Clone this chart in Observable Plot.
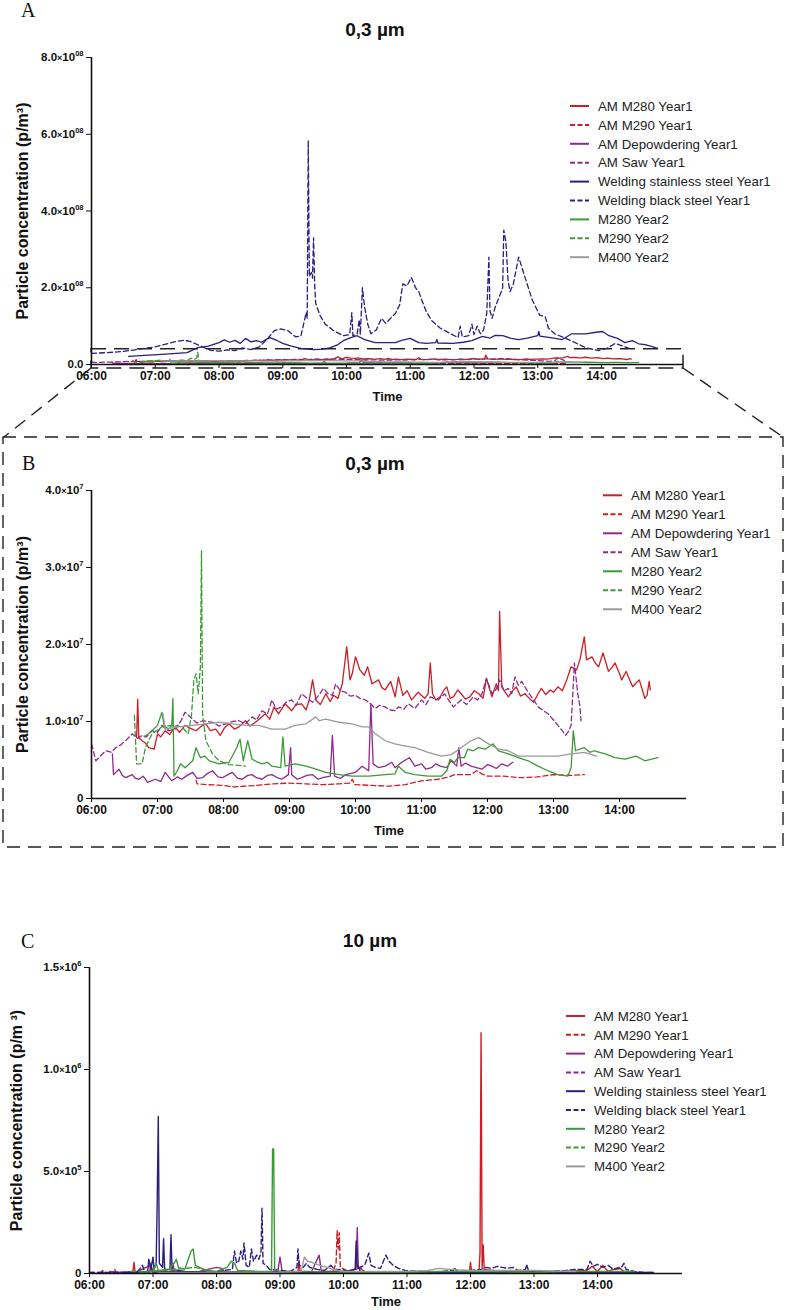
<!DOCTYPE html>
<html><head><meta charset="utf-8">
<script src="https://cdn.jsdelivr.net/npm/d3@7"></script>
<script src="https://cdn.jsdelivr.net/npm/@observablehq/plot@0.6"></script>
<style>
body{margin:0;background:#fff;}
#page{position:relative;width:787px;height:1310px;overflow:hidden;background:#fff}
.panel{position:absolute;left:0}
.panel svg{font-family:"Liberation Sans",Arial,sans-serif;font-weight:bold;color:#111}
g[aria-label="y-axis label"] text{font-size:16px}
g[aria-label="x-axis label"] text{font-size:13px}
#overlay{position:absolute;left:0;top:0;pointer-events:none}
</style></head>
<body><div id="page"></div>
<script>
// ---------- axis ticks & labels ----------
const xTicks = [6, 7, 8, 9, 10, 11, 12, 13, 14];
const xTickLabels = ["06:00","07:00","08:00","09:00","10:00","11:00","12:00","13:00","14:00"];
const yTicksA = [0, 20, 40, 60, 80];            // ×10^7
const yTickLabelsA = [["0.0",""],["2.0","08"],["4.0","08"],["6.0","08"],["8.0","08"]];
const yTicksB = [0, 1, 2, 3, 4];                // ×10^7
const yTickLabelsB = [["0",""],["1.0","7"],["2.0","7"],["3.0","7"],["4.0","7"]];
const yTicksC = [0, 5, 10, 15];                 // ×10^5
const yTickLabelsC = [["0",""],["5.0","5"],["1.0","6"],["1.5","6"]];

// ---------- series ----------
const seriesNames = ["AM M280 Year1","AM M290 Year1","AM Depowdering Year1","AM Saw Year1",
  "Welding stainless steel Year1","Welding black steel Year1","M280 Year2","M290 Year2","M400 Year2"];
const seriesColors = ["#cc1e24","#cc1e24","#8f2a8c","#8f2a8c","#2a1e80","#2a1e80","#3c9a36","#3c9a36","#9a9a9a"];
const seriesDashed = [false,true,false,true,false,true,false,true,false];

// 0.3 µm, units of 10^7 p/m3
const m280Y1_03 = [["06:41",0.79],["06:42",1.29],["06:43",0.79],["06:46",0.75],["06:49",0.72],["06:52",0.66],["06:57",0.64],["07:00",0.84],["07:03",0.80],["07:07",0.88],["07:11",0.83],["07:16",0.93],["07:20",0.86],["07:25",0.95],["07:30",0.91],["07:35",0.88],["07:40",0.94],["07:44",0.97],["07:48",0.88],["07:53",0.90],["07:57",0.82],["08:01",0.92],["08:05",0.97],["08:10",0.90],["08:14",0.93],["08:20",1.01],["08:24",0.94],["08:29",0.99],["08:34",1.05],["08:38",1.10],["08:42",1.03],["08:46",1.19],["08:50",1.10],["08:56",1.23],["09:02",1.14],["09:06",1.22],["09:11",1.23],["09:15",1.15],["09:18",1.28],["09:21",1.54],["09:24",1.28],["09:28",1.22],["09:33",1.36],["09:37",1.26],["09:40",1.34],["09:44",1.30],["09:48",1.49],["09:52",1.97],["09:55",1.54],["09:57",1.62],["10:00",1.84],["10:04",1.67],["10:08",1.60],["10:11",1.71],["10:15",1.49],["10:21",1.54],["10:24",1.44],["10:27",1.41],["10:32",1.52],["10:36",1.32],["10:39",1.58],["10:43",1.34],["10:47",1.40],["10:51",1.28],["10:57",1.38],["11:03",1.30],["11:06",1.36],["11:08",1.76],["11:10",1.36],["11:13",1.28],["11:17",1.32],["11:20",1.40],["11:23",1.45],["11:26",1.30],["11:29",1.32],["11:33",1.41],["11:36",1.36],["11:40",1.29],["11:44",1.32],["11:48",1.40],["11:52",1.36],["11:56",1.30],["11:59",1.56],["12:04",1.32],["12:08",1.49],["12:10",1.40],["12:11",2.43],["12:13",1.45],["12:16",1.38],["12:19",1.32],["12:23",1.40],["12:26",1.45],["12:30",1.33],["12:34",1.36],["12:38",1.30],["12:42",1.25],["12:46",1.36],["12:49",1.43],["12:53",1.35],["12:57",1.41],["13:00",1.38],["13:04",1.45],["13:08",1.40],["13:12",1.54],["13:16",1.71],["13:21",1.67],["13:24",1.80],["13:28",2.10],["13:30",1.80],["13:35",1.84],["13:38",1.76],["13:41",1.71],["13:45",1.89],["13:50",1.65],["13:53",1.70],["13:56",1.76],["14:00",1.62],["14:02",1.54],["14:06",1.65],["14:09",1.55],["14:12",1.45],["14:15",1.50],["14:18",1.54],["14:21",1.40],["14:23",1.30],["14:25",1.34],["14:27",1.52],["14:28",1.41]];
const m290Y1_03 = [["07:35",0.24],["07:36",0.19],["07:45",0.18],["08:00",0.17],["08:10",0.15],["08:20",0.16],["08:30",0.17],["08:45",0.19],["09:00",0.20],["09:15",0.19],["09:30",0.18],["09:45",0.19],["09:55",0.20],["09:57",0.25],["09:59",0.18],["10:15",0.17],["10:30",0.16],["10:45",0.18],["11:00",0.23],["11:15",0.25],["11:25",0.28],["11:30",0.31],["11:45",0.31],["11:50",0.36],["11:55",0.32],["12:00",0.29],["12:15",0.29],["12:30",0.27],["12:45",0.28],["13:00",0.31],["13:15",0.30],["13:28",0.31]];
const depowY1_03 = [["06:19",0.58],["06:20",0.31],["06:25",0.38],["06:28",0.30],["06:31",0.27],["06:37",0.31],["06:40",0.26],["06:43",0.25],["06:47",0.29],["06:51",0.21],["06:58",0.25],["07:03",0.22],["07:07",0.34],["07:13",0.23],["07:18",0.28],["07:22",0.25],["07:27",0.30],["07:32",0.34],["07:36",0.26],["07:41",0.27],["07:45",0.32],["07:50",0.36],["07:55",0.28],["07:59",0.27],["08:04",0.31],["08:08",0.34],["08:13",0.26],["08:17",0.25],["08:22",0.30],["08:26",0.31],["08:30",0.27],["08:35",0.25],["08:40",0.30],["08:44",0.31],["08:49",0.27],["08:53",0.25],["08:59",0.31],["09:01",0.66],["09:02",0.31],["09:07",0.25],["09:11",0.27],["09:16",0.30],["09:21",0.31],["09:26",0.25],["09:30",0.27],["09:37",0.29],["09:39",0.82],["09:41",0.29],["09:46",0.26],["09:51",0.31],["10:00",0.34],["10:06",0.42],["10:12",0.36],["10:14",1.23],["10:16",0.45],["10:21",0.40],["10:27",0.42],["10:33",0.47],["10:36",0.40],["10:42",0.47],["10:49",0.53],["10:54",0.42],["11:00",0.45],["11:04",0.38],["11:09",0.40],["11:13",0.45],["11:17",0.42],["11:23",0.40],["11:27",0.49],["11:32",0.42],["11:34",0.66],["11:36",0.42],["11:40",0.46],["11:45",0.42],["11:50",0.40],["11:55",0.38],["12:00",0.44],["12:04",0.42],["12:08",0.39],["12:13",0.45],["12:18",0.42],["12:23",0.47]];
const sawY1_03 = [["06:00",0.71],["06:04",0.49],["06:08",0.55],["06:13",0.62],["06:18",0.60],["06:22",0.66],["06:27",0.70],["06:31",0.75],["06:37",0.84],["06:42",0.78],["06:46",0.82],["06:50",0.80],["06:55",0.88],["07:00",0.86],["07:04",0.95],["07:10",0.88],["07:16",0.90],["07:21",1.00],["07:25",1.12],["07:32",1.03],["07:36",0.98],["07:41",1.01],["07:50",0.99],["07:56",0.94],["08:02",0.97],["08:08",1.00],["08:14",1.01],["08:20",0.97],["08:26",1.06],["08:30",1.02],["08:35",1.14],["08:40",1.10],["08:44",1.28],["08:48",1.16],["08:53",1.19],["08:57",1.25],["09:02",1.28],["09:06",1.21],["09:11",1.36],["09:16",1.30],["09:21",1.25],["09:26",1.33],["09:31",1.43],["09:35",1.36],["09:39",1.34],["09:42",1.49],["09:46",1.40],["09:51",1.38],["09:55",1.33],["10:00",1.34],["10:04",1.30],["10:09",1.28],["10:13",1.24],["10:18",1.17],["10:22",1.21],["10:27",1.19],["10:31",1.15],["10:36",1.14],["10:39",1.19],["10:44",1.16],["10:48",1.23],["10:54",1.17],["11:00",1.28],["11:04",1.22],["11:08",1.32],["11:15",1.28],["11:21",1.36],["11:25",1.27],["11:29",1.19],["11:33",1.24],["11:36",1.28],["11:41",1.22],["11:47",1.32],["11:51",1.28],["11:55",1.36],["11:59",1.56],["12:04",1.36],["12:08",1.42],["12:11",1.54],["12:15",1.40],["12:19",1.43],["12:22",1.36],["12:25",1.58],["12:28",1.47],["12:31",1.52],["12:34",1.45],["12:37",1.38],["12:42",1.28],["12:46",1.19],["12:50",1.15],["12:55",1.10],["13:00",1.02],["13:04",0.95],["13:08",0.88],["13:11",0.82],["13:14",0.88],["13:16",0.95],["13:19",1.76],["13:21",1.50],["13:22",1.36],["13:24",1.20],["13:25",1.01]];
const weldSSY1_03 = [["06:35",2.1],["06:50",2.4],["07:10",2.7],["07:30",3.1],["07:40",4.4],["07:50",4.8],["08:00",5.7],["08:05",6.4],["08:10",5.8],["08:15",6.3],["08:20",5.5],["08:25",6.8],["08:30",5.9],["08:35",6.2],["08:40",5.8],["08:45",6.6],["08:48",7.0],["08:55",6.2],["09:00",5.5],["09:08",4.8],["09:17",4.2],["09:29",3.9],["09:38",4.0],["09:45",4.4],["09:52",5.2],["09:57",6.2],["10:04",7.0],["10:10",7.5],["10:17",6.5],["10:27",5.7],["10:37",5.7],["10:46",5.7],["10:52",6.3],["11:00",6.8],["11:08",5.7],["11:15",5.5],["11:24",5.7],["11:25",6.5],["11:26",5.6],["11:40",5.5],["11:50",5.8],["11:58",6.2],["12:05",7.0],["12:08",7.3],["12:15",6.9],["12:20",7.6],["12:27",7.5],["12:35",6.8],["12:42",6.5],["12:50",6.9],["13:00",7.5],["13:01",8.6],["13:02",7.4],["13:12",7.0],["13:23",6.5],["13:32",8.0],["13:45",8.0],["13:55",8.4],["14:01",8.6],["14:07",7.5],["14:15",6.8],["14:22",5.7],["14:29",6.2],["14:35",5.4],["14:41",5.2],["14:47",4.7],["14:53",4.2]];
const weldBSY1_03 = [["06:00",2.9],["06:15",3.1],["06:30",3.4],["06:45",4.0],["07:00",4.6],["07:10",5.3],["07:20",6.0],["07:27",6.3],["07:33",6.0],["07:38",5.4],["07:45",4.5],["07:52",3.7],["08:00",3.5],["08:08",3.8],["08:15",3.6],["08:22",4.3],["08:30",3.9],["08:38",4.6],["08:45",6.5],["08:52",8.8],["08:58",9.3],["09:05",8.8],["09:12",7.2],["09:17",7.4],["09:20",11.0],["09:22",13.5],["09:23",12.0],["09:24",58.4],["09:25",23.0],["09:27",24.0],["09:28",22.5],["09:29",33.0],["09:30",21.0],["09:31",16.0],["09:35",12.8],["09:40",10.5],["09:48",8.8],["09:57",7.5],["10:03",7.8],["10:05",13.5],["10:06",7.5],["10:10",8.0],["10:12",11.7],["10:13",7.8],["10:15",20.0],["10:17",15.0],["10:20",10.5],["10:23",8.0],["10:28",9.0],["10:33",12.0],["10:37",10.7],["10:43",12.5],["10:46",13.3],["10:50",15.5],["10:53",21.0],["10:57",20.5],["11:01",22.7],["11:05",20.0],["11:08",19.0],["11:11",16.7],["11:15",13.8],["11:20",11.5],["11:28",9.5],["11:36",8.3],["11:45",7.0],["11:47",10.0],["11:49",7.2],["11:55",7.5],["11:58",10.5],["12:00",7.8],["12:03",10.0],["12:06",8.0],["12:09",9.0],["12:12",13.3],["12:14",28.0],["12:15",14.0],["12:17",12.0],["12:20",15.0],["12:25",18.5],["12:27",20.0],["12:28",35.0],["12:30",32.0],["12:32",22.0],["12:34",19.0],["12:37",21.0],["12:42",28.0],["12:48",22.7],["12:55",16.7],["13:02",12.8],["13:07",12.5],["13:10",9.5],["13:16",8.0],["13:29",6.5],["13:45",4.4],["13:57",3.6],["14:05",4.2],["14:13",5.5],["14:20",4.8],["14:26",4.2]];
const m280Y2_03 = [["06:48",0.80],["06:55",0.88],["07:00",0.95],["07:04",1.12],["07:06",0.95],["07:10",0.90],["07:13",0.95],["07:14",1.30],["07:15",0.29],["07:18",0.36],["07:21",0.45],["07:25",0.40],["07:32",0.49],["07:35",0.66],["07:39",0.53],["07:43",0.55],["07:47",0.49],["07:56",0.45],["08:05",0.47],["08:12",0.66],["08:15",0.77],["08:18",0.49],["08:22",0.75],["08:26",0.51],["08:30",0.48],["08:35",0.45],["08:40",0.47],["08:44",0.42],["08:52",0.40],["08:54",0.80],["08:56",0.42],["09:05",0.45],["09:15",0.42],["09:24",0.38],["09:33",0.34],["09:45",0.31],["09:57",0.29],["10:12",0.29],["10:27",0.31],["10:36",0.32],["10:39",0.42],["10:45",0.34],["10:54",0.31],["11:06",0.29],["11:18",0.29],["11:23",0.36],["11:26",0.51],["11:30",0.47],["11:33",0.53],["11:39",0.53],["11:42",0.64],["11:47",0.62],["11:52",0.66],["11:58",0.64],["12:05",0.71],["12:10",0.62],["12:19",0.58],["12:28",0.53],["12:37",0.49],["12:46",0.42],["12:55",0.36],["13:04",0.31],["13:13",0.29],["13:16",0.40],["13:18",0.88],["13:20",0.62],["13:28",0.66],["13:33",0.60],["13:37",0.62],["13:47",0.58],["13:56",0.53],["14:05",0.51],["14:10",0.53],["14:15",0.55],["14:23",0.49],["14:29",0.51],["14:35",0.53]];
const m290Y2_03 = [["06:39",1.08],["06:41",0.45],["06:46",0.45],["06:49",0.66],["06:55",0.84],["07:04",0.93],["07:13",0.95],["07:22",0.93],["07:28",0.84],["07:31",1.10],["07:33",1.54],["07:35",1.62],["07:37",1.36],["07:39",1.71],["07:40",3.22],["07:41",1.10],["07:44",0.75],["07:50",0.58],["07:56",0.49],["08:05",0.44],["08:14",0.43],["08:20",0.42]];
const m400Y2_03 = [["07:05",1.10],["07:07",0.90],["07:19",0.93],["07:32",0.95],["07:44",0.97],["07:56",0.99],["08:08",0.97],["08:20",0.95],["08:32",0.95],["08:44",0.90],["08:56",0.90],["09:05",0.95],["09:15",0.97],["09:24",1.06],["09:27",1.01],["09:33",1.03],["09:45",0.99],["09:57",0.97],["10:06",0.93],["10:12",0.93],["10:18",0.84],["10:27",0.75],["10:36",0.71],["10:42",0.69],["10:54",0.66],["11:06",0.60],["11:18",0.55],["11:27",0.57],["11:36",0.66],["11:45",0.75],["11:52",0.79],["12:01",0.71],["12:10",0.64],["12:19",0.62],["12:28",0.55],["12:40",0.55],["12:52",0.55],["13:04",0.55],["13:16",0.58],["13:28",0.60],["13:39",0.55]];

// 10 µm, units of 10^5 p/m3
const m280Y1_10 = [["06:41",0.1],["06:42",0.55],["06:43",0.1],["06:50",0.05],["06:57",0.1],["06:58",0.5],["06:59",0.1],["07:30",0.05],["08:00",0.05],["08:30",0.08],["09:00",0.05],["09:17",0.1],["09:18",0.65],["09:19",0.1],["09:40",0.05],["10:00",0.08],["10:30",0.05],["11:00",0.05],["11:30",0.08],["11:59",0.1],["12:00",0.55],["12:01",0.1],["12:08",0.1],["12:09",1.0],["12:10",11.8],["12:11",0.3],["12:12",1.4],["12:13",0.2],["12:30",0.1],["13:00",0.08],["13:30",0.1],["13:50",0.15],["13:55",0.35],["14:00",0.1],["14:05",0.4],["14:10",0.1],["14:20",0.3],["14:25",0.1],["14:28",0.1]];
const m290Y1_10 = [["07:35",0.05],["08:00",0.05],["08:30",0.05],["09:00",0.05],["09:30",0.05],["09:50",0.1],["09:53",0.5],["09:54",2.1],["09:55",1.2],["09:56",2.0],["09:57",0.3],["10:05",0.1],["10:16",0.3],["10:20",0.05],["11:00",0.05],["12:00",0.05],["13:00",0.05],["13:28",0.05]];
const depowY1_10 = [["06:19",0.1],["06:30",0.05],["06:45",0.1],["06:58",0.4],["07:00",0.1],["07:18",0.1],["07:19",0.5],["07:20",0.1],["07:40",0.05],["08:00",0.3],["08:05",0.25],["08:08",0.05],["08:40",0.05],["08:58",0.1],["09:00",0.8],["09:02",0.1],["09:30",0.1],["09:37",0.9],["09:39",0.1],["10:00",0.1],["10:12",0.2],["10:13",2.25],["10:14",0.3],["10:20",0.1],["11:00",0.05],["11:30",0.05],["12:00",0.05],["12:23",0.05]];
const sawY1_10 = [["06:00",0.05],["06:11",0.05],["06:12",0.2],["06:13",0.05],["06:23",0.05],["06:24",0.2],["06:25",0.05],["06:50",0.1],["07:00",0.05],["07:30",0.05],["08:00",0.05],["09:00",0.05],["10:00",0.05],["11:00",0.05],["12:00",0.05],["13:00",0.05],["13:25",0.05]];
const weldSSY1_10 = [["06:35",0.05],["06:55",0.1],["06:56",0.7],["06:58",0.2],["07:00",0.8],["07:01",0.2],["07:03",0.5],["07:04",3.6],["07:05",7.7],["07:06",0.5],["07:09",0.3],["07:10",1.7],["07:11",0.2],["07:16",0.2],["07:17",1.9],["07:18",0.2],["07:30",0.1],["08:00",0.05],["08:30",0.05],["09:00",0.05],["09:30",0.05],["10:00",0.05],["10:11",0.2],["10:12",1.6],["10:13",0.4],["10:16",0.1],["11:00",0.05],["12:00",0.05],["13:00",0.05],["14:00",0.05],["14:53",0.05]];
const weldBSY1_10 = [["06:00",0.05],["06:45",0.05],["06:50",0.4],["06:52",0.1],["07:20",0.1],["07:40",0.05],["08:00",0.1],["08:15",0.2],["08:17",1.1],["08:19",0.5],["08:21",0.6],["08:23",1.1],["08:25",0.7],["08:26",1.5],["08:28",0.4],["08:31",0.3],["08:33",1.2],["08:35",0.6],["08:38",0.9],["08:40",0.7],["08:42",1.0],["08:43",3.2],["08:44",0.5],["08:47",0.4],["08:50",0.2],["09:00",0.15],["09:10",0.1],["09:16",0.3],["09:17",1.2],["09:18",0.4],["09:22",0.3],["09:25",0.5],["09:28",0.3],["09:35",0.2],["09:42",0.15],["09:48",0.4],["09:52",0.2],["09:58",0.2],["10:05",0.1],["10:10",0.2],["10:20",0.4],["10:24",1.0],["10:26",0.4],["10:30",0.3],["10:35",0.25],["10:40",0.9],["10:43",0.6],["10:47",0.4],["10:52",0.25],["10:58",0.15],["11:10",0.1],["11:30",0.08],["11:44",0.15],["11:45",0.3],["11:47",0.1],["12:00",0.15],["12:10",0.2],["12:15",0.3],["12:20",0.25],["12:25",0.35],["12:30",0.3],["12:35",0.25],["12:40",0.3],["12:45",0.15],["12:52",0.2],["12:53",0.45],["12:55",0.1],["13:10",0.1],["13:30",0.15],["13:40",0.2],["13:50",0.2],["13:53",0.6],["13:56",0.35],["14:00",0.45],["14:05",0.3],["14:10",0.4],["14:15",0.2],["14:22",0.25],["14:25",0.5],["14:27",0.2],["14:35",0.1],["14:45",0.05],["14:53",0.05]];
const m280Y2_10 = [["06:48",0.05],["07:00",0.1],["07:03",0.5],["07:05",0.15],["07:15",0.2],["07:20",0.5],["07:22",0.7],["07:24",0.3],["07:30",0.2],["07:34",0.8],["07:36",1.1],["07:38",1.2],["07:40",0.4],["07:50",0.15],["08:00",0.1],["08:10",0.3],["08:14",0.6],["08:17",0.5],["08:20",0.15],["08:40",0.1],["08:52",0.1],["08:53",6.1],["08:54",6.1],["08:55",0.2],["09:00",0.1],["09:30",0.08],["10:00",0.05],["10:30",0.05],["11:00",0.05],["11:30",0.1],["12:00",0.1],["12:30",0.08],["13:00",0.05],["13:30",0.1],["14:00",0.1],["14:35",0.1]];
const m290Y2_10 = [["06:39",0.1],["07:00",0.1],["07:40",0.3],["08:00",0.05],["08:20",0.05]];
const m400Y2_10 = [["07:05",0.05],["08:00",0.05],["09:00",0.05],["09:20",0.1],["09:23",0.8],["09:26",0.6],["09:30",0.55],["09:35",0.45],["09:40",0.35],["09:45",0.3],["09:50",0.2],["09:55",0.15],["10:00",0.1],["10:30",0.1],["11:00",0.1],["11:20",0.15],["11:30",0.25],["11:40",0.2],["12:00",0.15],["12:30",0.15],["13:00",0.15],["13:39",0.1]];

const data03 = [m280Y1_03, m290Y1_03, depowY1_03, sawY1_03, weldSSY1_03, weldBSY1_03, m280Y2_03, m290Y2_03, m400Y2_03];
const data10 = [m280Y1_10, m290Y1_10, depowY1_10, sawY1_10, weldSSY1_10, weldBSY1_10, m280Y2_10, m290Y2_10, m400Y2_10];

// ---------- helpers ----------
const parseT = s => { const [h, m] = s.split(":").map(Number); return h + m / 60; };
const SUP = {"0":"⁰","1":"¹","2":"²","3":"³","4":"⁴","5":"⁵","6":"⁶","7":"⁷","8":"⁸","9":"⁹"};
const plainLabel = ([m, e]) => e ? `${m}×10${[...e].map(c => SUP[c]).join("")}` : m;
const svgNS = "http://www.w3.org/2000/svg";

const page = document.getElementById("page");

function buildPanel(cfg) {
  const marks = [];
  if (cfg.zoomBox) {
    marks.push(Plot.rect([cfg.zoomBox], {x1: "x1", x2: "x2", y1: "y1", y2: "y2", fill: "none",
      stroke: "#222", strokeWidth: 1.5, strokeDasharray: "15,8", insetBottom: -4}));
  }
  cfg.series.forEach(i => {
    const rows = cfg.data[i].map(([t, v]) => ({t: parseT(t), v}));
    marks.push(Plot.line(rows, {x: "t", y: "v", stroke: seriesColors[i], strokeWidth: cfg.lw,
      strokeDasharray: seriesDashed[i] ? "5,3" : null, curve: "linear"}));
  });
  marks.push(Plot.ruleY([0], {stroke: "#111", strokeWidth: 1.6}));
  marks.push(Plot.ruleX([6], {stroke: "#111", strokeWidth: 1.6}));
  marks.push(Plot.axisX({ticks: xTicks, tickFormat: (d) => xTickLabels[xTicks.indexOf(d)], tickSize: 4,
    tickPadding: 3, label: "Time", labelAnchor: "center", labelArrow: "none", labelOffset: cfg.lxo,
    fontSize: 12, fontWeight: "bold", stroke: "#111"}));
  marks.push(Plot.axisY({ticks: cfg.yTicks, tickFormat: (d) => plainLabel(cfg.yLabels[cfg.yTicks.indexOf(d)]),
    tickSize: 5, tickPadding: 3, label: cfg.yLabel, labelAnchor: "center", labelArrow: "none",
    labelOffset: cfg.lyo, fontSize: 11.5, fontWeight: "bold", stroke: "#111"}));
  const chart = Plot.plot({
    width: 787, height: cfg.height,
    marginLeft: cfg.mL, marginRight: cfg.mR, marginTop: cfg.mT, marginBottom: cfg.mB,
    x: {domain: [6, cfg.xEnd]},
    y: {domain: [0, cfg.yMax]},
    style: {background: "transparent", color: "#111"},
    marks
  });
  // superscript exponents in y tick labels
  chart.querySelectorAll('g[aria-label="y-axis tick label"] text').forEach(t => {
    const lab = cfg.yLabels.find(l => plainLabel(l) === t.textContent);
    if (!lab || !lab[1]) return;
    t.textContent = "";
    const parts = [[lab[0], null, null], ["×", 9, null], ["10", null, null], [lab[1], 7.5, -5]];
    parts.forEach(([s, fs, dy]) => {
      const sp = document.createElementNS(svgNS, "tspan");
      sp.textContent = s;
      if (fs) sp.setAttribute("font-size", fs);
      if (dy) sp.setAttribute("dy", dy);
      t.appendChild(sp);
    });
  });
  const div = document.createElement("div");
  div.className = "panel";
  div.style.top = cfg.top + "px";
  div.appendChild(chart);
  page.appendChild(div);
}

const xEndA = 15.286, xEndB = 15.015, xEndC = 15.339;
const yMaxA = 80, yMaxB = 4, yMaxC = 15;

buildPanel({top: 0, height: 410, mL: 91, mR: 104, mT: 57, mB: 46, xEnd: xEndA, yMax: yMaxA,
  yTicks: yTicksA, yLabels: yTickLabelsA, data: data03, series: [0,1,2,3,4,5,6,7,8], lw: 1.3,
  yLabel: "Particle concentration (p/m³)", lyo: 75, lxo: 36,
  zoomBox: {x1: 6, x2: xEndA, y1: 0, y2: yMaxB}});
buildPanel({top: 420, height: 430, mL: 91, mR: 101, mT: 70, mB: 52, xEnd: xEndB, yMax: yMaxB,
  yTicks: yTicksB, yLabels: yTickLabelsB, data: data03, series: [0,1,2,3,6,7,8], lw: 1.3,
  yLabel: "Particle concentration (p/m³)", lyo: 75, lxo: 36});
buildPanel({top: 870, height: 440, mL: 89, mR: 105, mT: 97, mB: 37, xEnd: xEndC, yMax: yMaxC,
  yTicks: yTicksC, yLabels: yTickLabelsC, data: data10, series: [0,1,2,3,4,5,6,7,8], lw: 1.4,
  yLabel: "Particle concentration (p/m ³)", lyo: 79, lxo: 32});

// ---------- overlay: panel letters, titles, legends, zoom guides ----------
const ov = d3.select(page).append("svg").attr("id", "overlay").attr("width", 787).attr("height", 1310);
const letters = [["A", 21, 17], ["B", 22, 470], ["C", 21, 948]];
ov.selectAll("text.letter").data(letters).join("text").attr("class", "letter")
  .attr("x", d => d[1]).attr("y", d => d[2]).text(d => d[0])
  .attr("font-family", "'Liberation Serif','Times New Roman',serif").attr("font-size", 20).attr("fill", "#111");
const titles = [["0,3 µm", 375, 36], ["0,3 µm", 375, 470], ["10 µm", 370, 947]];
ov.selectAll("text.title").data(titles).join("text").attr("class", "title")
  .attr("x", d => d[1]).attr("y", d => d[2]).text(d => d[0]).attr("text-anchor", "middle")
  .attr("font-family", "'Liberation Sans',Arial,sans-serif").attr("font-weight", "bold").attr("font-size", 19).attr("fill", "#111");

function legend(x0, y0, step, idx) {
  const g = ov.append("g").attr("font-family", "'Liberation Sans',Arial,sans-serif").attr("font-size", 13.3);
  idx.forEach((i, k) => {
    const y = y0 + k * step;
    g.append("line").attr("x1", x0).attr("x2", x0 + 19).attr("y1", y).attr("y2", y)
      .attr("stroke", seriesColors[i]).attr("stroke-width", 2)
      .attr("stroke-dasharray", seriesDashed[i] ? "5,2.5" : null);
    g.append("text").attr("x", x0 + 28).attr("y", y + 4.7).attr("fill", "#222").text(seriesNames[i]);
  });
}
legend(570, 106, 18.9, [0,1,2,3,4,5,6,7,8]);
legend(603, 495.3, 19, [0,1,2,3,6,7,8]);
legend(566, 1016, 18.8, [0,1,2,3,4,5,6,7,8]);

const guide = ov.append("g").attr("fill", "none").attr("stroke", "#222").attr("stroke-width", 1.4).attr("stroke-dasharray", "13,8");
guide.append("rect").attr("x", 3).attr("y", 437).attr("width", 780).attr("height", 410);
guide.append("line").attr("x1", 91).attr("y1", 368).attr("x2", 4).attr("y2", 437);
guide.append("line").attr("x1", 683).attr("y1", 368).attr("x2", 783).attr("y2", 437);
</script></body></html>
